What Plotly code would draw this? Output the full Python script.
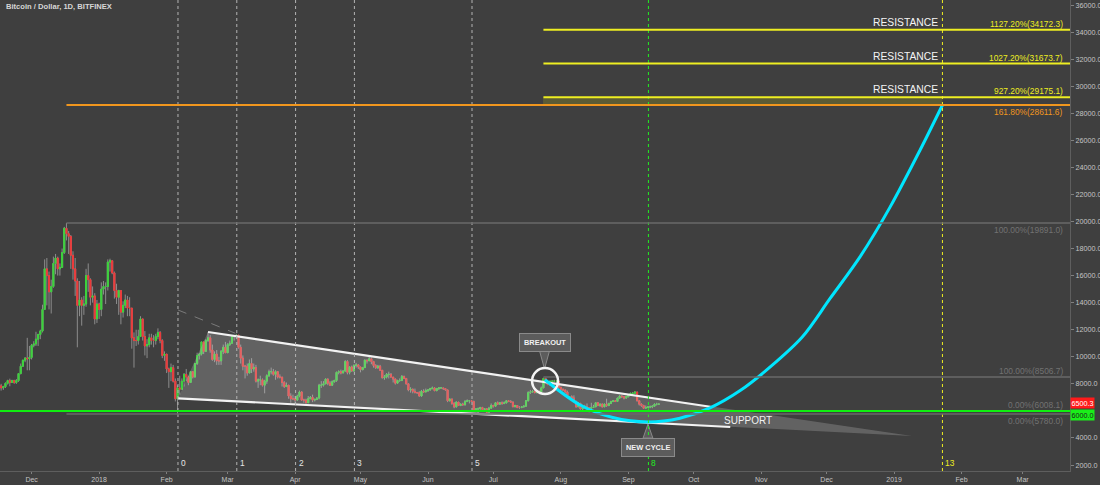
import pandas as pd
import plotly.graph_objects as go

# ---------------- data ----------------
START = "2017-11-17"
FIRST_OPEN = 7850.0

closes = [
    # Nov 17-30 2017
    7700, 7790, 8040, 8240, 8100, 8240, 8100, 8240, 8760, 9300, 9750, 9900, 9850, 9950,
    # Dec 2017
    10850, 10950, 11300, 11650, 11900, 13500, 16500, 16000, 14800, 15200, 16900, 17300, 16500, 16600, 17700,
    19500, 19100, 18900, 17500, 16500, 15600, 13800, 14200, 13800, 13900, 16000, 15700, 14400, 14500, 12800, 13900,
    # Jan 2018
    13500, 15000, 15200, 15200, 17000, 17100, 16200, 14900, 14400, 14900, 13300, 13800, 14200, 13600, 13600,
    11400, 11200, 11200, 11500, 12800, 11500, 10800, 10900, 11400, 11200, 11200, 11500, 11800, 11200, 10100, 10200,
    # Feb 2018
    9100, 8900, 9200, 8200, 6900, 7700, 7600, 8200, 8700, 8500, 8100, 8900, 8500, 9500,
    10100, 10200, 11100, 10400, 11200, 11400, 10500, 9800, 10200, 9700, 9700, 10400, 10700, 10300,
    # Mar 2018
    10900, 11000, 11500, 11500, 11600, 10700, 9900, 9300, 9300, 8800, 9500, 9100, 9200, 8200, 8300,
    8300, 7900, 8200, 8600, 8900, 8900, 8700, 8900, 8500, 8500, 8100, 7800, 7900, 7100, 6900, 6900,
    # Apr 2018
    6800, 7100, 7400, 6800, 6800, 6600, 6900, 7000, 6800, 6850, 6950, 7900, 7900, 8000, 8350,
    8050, 7900, 8150, 8250, 8850, 8900, 8800, 8950, 9650, 8850, 9250, 8950, 9350, 9400, 9250,
    # May 2018
    9050, 9200, 9750, 9700, 9850, 9650, 9350, 9200, 9300, 9000, 8450, 8500, 8700, 8700, 8500,
    8350, 8050, 8250, 8250, 8550, 8400, 8000, 7550, 7600, 7450, 7350, 7350, 7100, 7450, 7400, 7500,
    # Jun 2018
    7550, 7650, 7700, 7500, 7650, 7700, 7700, 7650, 7550, 6750, 6880, 6550, 6300, 6650, 6400,
    6500, 6450, 6700, 6750, 6750, 6700, 6050, 6150, 6150, 6250, 6100, 6150, 5900, 6200, 6400,
    # Jul 2018
    6350, 6600, 6500, 6600, 6550, 6600, 6750, 6700, 6650, 6300, 6400, 6250, 6250, 6300, 6350,
    6750, 7350, 7400, 7450, 7350, 7450, 7400, 7700, 8400, 8150, 7950, 8200, 8200, 8200, 8200, 7750,
    # Aug 2018
    7600, 7550, 7400, 7000, 7050, 6950, 6700, 6300, 6550, 6150, 6250, 6300, 6250, 6200, 6250,
    6300, 6600, 6400, 6500, 6300, 6500, 6400, 6550, 6700, 6750, 6700, 6950, 7100, 7050, 6950, 7050,
    # Sep 1-15 2018
    7200, 7300, 7300, 7400, 6750, 6500, 6400, 6200, 6250, 6300, 6300, 6350, 6500, 6500, 6500.3,
]

highs = [
    8000, 7850, 8100, 8300, 8380, 8300, 8300, 8350, 8800, 9500, 9770, 9980, 11400, 10800,
    10950, 11150, 11850, 11700, 12000, 13850, 17200, 17300, 16300, 15700, 17400, 17600, 17400, 16900, 18000,
    19600, 19891, 19300, 19000, 17800, 17300, 15800, 15600, 14400, 14500, 16500, 16900, 15800, 15200, 14700, 14200,
    14000, 15500, 15600, 15500, 17200, 17250, 17100, 16300, 15400, 14950, 14900, 14100, 14600, 14500, 14400,
    13600, 11800, 12000, 12000, 13000, 12800, 11900, 11300, 11700, 11700, 11600, 11700, 12100, 11900, 11300, 10400,
    10200, 9200, 9500, 9400, 8400, 7900, 8600, 8400, 8800, 9100, 8600, 8950, 8900, 9500,
    10300, 10300, 11100, 11100, 11300, 11800, 11600, 10900, 10400, 10500, 10000, 10500, 10900, 11100,
    11000, 11200, 11500, 11600, 11700, 11600, 10900, 10100, 9400, 9500, 9800, 9900, 9500, 9400, 8400,
    8600, 8400, 8300, 8700, 9050, 9200, 9100, 9000, 8950, 8700, 8500, 8200, 8100, 7900, 7300, 7200,
    7100, 7200, 7500, 7450, 6900, 6900, 7100, 7100, 7200, 6900, 7000, 8000, 8200, 8200, 8400,
    8400, 8200, 8250, 8300, 8900, 9000, 9050, 9000, 9750, 9750, 9300, 9350, 9450, 9550, 9450,
    9250, 9250, 9800, 9800, 9990, 9950, 9700, 9450, 9400, 9400, 9000, 8650, 8800, 8900, 8800,
    8500, 8400, 8300, 8400, 8650, 8600, 8400, 8050, 7750, 7650, 7650, 7400, 7450, 7550, 7600, 7650,
    7600, 7700, 7800, 7750, 7700, 7750, 7750, 7700, 7650, 7550, 6900, 6900, 6650, 6700, 6650,
    6550, 6600, 6800, 6850, 6800, 6800, 6750, 6200, 6250, 6300, 6300, 6200, 6200, 6300, 6550,
    6450, 6650, 6700, 6650, 6700, 6700, 6800, 6800, 6800, 6700, 6450, 6400, 6350, 6350, 6400,
    6800, 7450, 7550, 7550, 7650, 7500, 7550, 7800, 8450, 8450, 8300, 8250, 8250, 8300, 8250, 8200,
    7750, 7650, 7550, 7500, 7100, 7150, 7150, 6750, 6650, 6600, 6450, 6450, 6550, 6250, 6600,
    6450, 6600, 6650, 6550, 6550, 6550, 6900, 6600, 6750, 6800, 6800, 6950, 7150, 7150, 7050, 7100,
    7250, 7350, 7400, 7450, 7400, 6800, 6550, 6450, 6400, 6350, 6400, 6400, 6550, 6600, 6550,
]

lows = [
    7500, 7550, 7700, 7950, 7820, 8080, 8000, 8000, 8150, 8700, 9250, 9600, 9000, 9000,
    9800, 10700, 10800, 10800, 11300, 11800, 13500, 13800, 13500, 13200, 15100, 16100, 16000, 16000, 16600,
    17600, 18600, 17600, 16500, 15700, 14500, 10700, 13000, 12300, 13100, 13700, 14800, 13800, 14000, 12400, 12500,
    12800, 13000, 14600, 13900, 14900, 16300, 16100, 14300, 13900, 13100, 12400, 12900, 13600, 13000, 13000,
    10600, 9200, 10800, 10900, 11500, 11200, 10100, 9900, 10700, 10900, 10700, 10900, 11300, 11000, 9900, 9700,
    8800, 7700, 8200, 8100, 6700, 5780, 7200, 7600, 7800, 8200, 7900, 8100, 8400, 8500,
    9400, 9800, 10100, 10200, 10400, 11100, 10300, 9700, 9600, 9400, 9400, 9400, 10200, 10300,
    10300, 10800, 11000, 11200, 11300, 10600, 9500, 9000, 8400, 8600, 8800, 8800, 8900, 8100, 7700,
    7900, 7800, 7300, 8000, 8500, 8700, 8600, 8300, 8400, 8400, 7800, 7700, 7800, 6900, 6600, 6800,
    6500, 6750, 7000, 6750, 6600, 6550, 6600, 6900, 6650, 6700, 6800, 6850, 7700, 7800, 8000,
    7900, 7850, 7850, 8100, 8150, 8700, 8700, 8800, 8900, 8700, 8700, 8900, 8900, 9200, 9100,
    8850, 9000, 9200, 9500, 9700, 9450, 9200, 9100, 9100, 8950, 8400, 8300, 8400, 8400, 8450,
    8100, 7950, 8050, 8150, 8200, 8350, 7950, 7450, 7350, 7300, 7300, 7250, 7050, 7050, 7350, 7400,
    7400, 7500, 7600, 7450, 7450, 7550, 7650, 7550, 7500, 6650, 6700, 6450, 6200, 6250, 6400,
    6350, 6400, 6400, 6650, 6550, 6650, 5950, 5950, 5800, 6100, 6050, 6050, 5850, 5850, 6200,
    6250, 6300, 6450, 6450, 6450, 6500, 6550, 6650, 6600, 6300, 6300, 6200, 6150, 6200, 6250,
    6300, 6700, 7250, 7350, 7300, 7300, 7350, 7350, 7700, 8050, 7900, 7850, 8100, 8150, 7900, 7650,
    7450, 7450, 7300, 6950, 6900, 6850, 6650, 6250, 6300, 6100, 6050, 6200, 6150, 5900, 6100,
    6250, 6300, 6350, 6300, 6250, 6300, 6300, 6350, 6500, 6650, 6650, 6700, 6900, 6950, 6850, 6900,
    7000, 7150, 7200, 7250, 6700, 6400, 6300, 6150, 6200, 6250, 6200, 6200, 6300, 6400, 6450,
]

# Fibonacci levels (labels, prices)
fib1_labels = ["161.80%(28611.6)", "100.00%(19891.0)", "0.00%(5780.0)"]
fib1_prices = [28611.6, 19891.0, 5780.0]
fib2_labels = ["1127.20%(34172.3)", "1027.20%(31673.7)", "927.20%(29175.1)", "100.00%(8506.7)", "0.00%(6008.1)"]
fib2_prices = [34172.3, 31673.7, 29175.1, 8506.7, 6008.1]
support_price = 6000.0
last_price = 6500.3

# Fibonacci time zones
fib_zone_start = "2018-02-06 05:00"
fib_zone_unit_days = 27
fib_zone_numbers = [0, 1, 2, 3, 5, 8, 13]

# drawings (date, price)
wedge_upper_dates = ["2018-02-20", "2018-10-09 10:00"]
wedge_upper_prices = [11830, 6290]
wedge_lower_dates = ["2018-02-06 05:00", "2018-10-17 19:00"]
wedge_lower_prices = [6930, 4810]
wedge_apex = ("2019-01-09 05:00", 4145)
dash_dates = ["2018-02-06 05:00", "2018-03-04 12:00"]
dash_prices = [13460, 11740]

curve_dates = ["2018-07-24 16:00", "2018-08-09 20:00", "2018-08-24 20:00", "2018-09-10", "2018-09-24 16:00",
               "2018-10-08 12:00", "2018-10-22 08:00", "2018-11-05", "2018-11-19 20:00", "2018-12-02 15:00",
               "2018-12-16 10:00", "2018-12-30 05:00", "2019-01-13", "2019-01-23 05:00"]
curve_prices = [8300, 6436, 5510, 5180, 5460, 6220, 7500, 9230, 11460, 14310, 17400, 21080, 25300, 28611.6]

# ---------------- styling ----------------
BG = "#3f3f3f"
UP = "#3bd43b"
DOWN = "#ee3a3a"
WICK = "#8c8c8c"
FONT = "Liberation Sans"
ORANGE = "#f0961e"
YELLOW = "#eeee22"
GREEN = "#10ee10"
GRAYLINE = "#6a6a6a"

X_START = "2017-11-16 11:45"
X_END = "2019-03-22 18:30"
Y_RANGE = [1558, 36370]

n = min(len(closes), len(highs), len(lows))
dates = pd.date_range(START, periods=n, freq="D")
cl = closes[:n]
opens = [FIRST_OPEN] + cl[:-1]
hi = [max(h, o, c) for h, o, c in zip(highs[:n], opens, cl)]
lo = [min(l, o, c) for l, o, c in zip(lows[:n], opens, cl)]
bhi = [max(o, c) for o, c in zip(opens, cl)]
blo = [min(o, c) for o, c in zip(opens, cl)]

fig = go.Figure()

# wedge fill
fig.add_trace(go.Scatter(
    x=[wedge_lower_dates[0], wedge_upper_dates[0], wedge_apex[0], wedge_lower_dates[0]],
    y=[wedge_lower_prices[0], wedge_upper_prices[0], wedge_apex[1], wedge_lower_prices[0]],
    fill="toself", fillcolor="rgba(215,215,215,0.24)", line=dict(width=0),
    mode="lines", hoverinfo="skip", showlegend=False))

# candles: wicks then bodies
fig.add_trace(go.Candlestick(
    x=dates, open=opens, high=hi, low=lo, close=cl,
    increasing=dict(line=dict(color=WICK, width=1), fillcolor=WICK),
    decreasing=dict(line=dict(color=WICK, width=1), fillcolor=WICK),
    whiskerwidth=0, hoverinfo="skip", showlegend=False))
fig.add_trace(go.Candlestick(
    x=dates, open=opens, high=bhi, low=blo, close=cl,
    increasing=dict(line=dict(color=UP, width=1), fillcolor=UP),
    decreasing=dict(line=dict(color=DOWN, width=1), fillcolor=DOWN),
    whiskerwidth=0, hoverinfo="skip", showlegend=False))

# wedge lines
for xs, ys in [(wedge_upper_dates, wedge_upper_prices), (wedge_lower_dates, wedge_lower_prices)]:
    fig.add_trace(go.Scatter(x=xs, y=ys, mode="lines", line=dict(color="#f2f2f2", width=2.2),
                             hoverinfo="skip", showlegend=False))
fig.add_trace(go.Scatter(x=dash_dates, y=dash_prices, mode="lines",
                         line=dict(color="#7a7a7a", width=1, dash="dash"), hoverinfo="skip", showlegend=False))

shapes = []
# fib time zones
zone_colors = {8: "#22ee22", 13: "#eeee22"}
zone_start = pd.Timestamp(fib_zone_start)
zone_dates = []
for k in fib_zone_numbers:
    d = zone_start + pd.Timedelta(days=fib_zone_unit_days * k)
    zone_dates.append(d)
    shapes.append(dict(type="line", xref="x", yref="paper", x0=d, x1=d, y0=0, y1=1,
                       line=dict(color=zone_colors.get(k, "#b4b4b4"), width=1, dash="dot"), layer="above"))

breakout_date = "2018-07-24"
target_date = zone_dates[-1]
# yellow/olive band
shapes.append(dict(type="rect", xref="x", yref="y", x0="2018-07-23 20:00", x1=target_date,
                   y0=fib1_prices[0], y1=fib2_prices[2], fillcolor="rgba(255,255,0,0.15)",
                   line=dict(width=0), layer="below"))
# fib 1 lines
fib1_colors = [ORANGE, GRAYLINE, GRAYLINE]
fib1_widths = [2, 1.5, 1.5]
for p, c, w in zip(fib1_prices, fib1_colors, fib1_widths):
    shapes.append(dict(type="line", xref="x", yref="y", x0="2017-12-17", x1=X_END, y0=p, y1=p,
                       line=dict(color=c, width=w)))
# fib 2 lines
fib2_colors = [YELLOW, YELLOW, YELLOW, GRAYLINE, GRAYLINE]
fib2_widths = [2, 2, 2, 1.5, 1.5]
for p, c, w in zip(fib2_prices, fib2_colors, fib2_widths):
    shapes.append(dict(type="line", xref="x", yref="y", x0=breakout_date, x1=X_END, y0=p, y1=p,
                       line=dict(color=c, width=w)))
# support line
shapes.append(dict(type="line", xref="x", yref="y", x0=X_START, x1=X_END, y0=support_price, y1=support_price,
                   line=dict(color=GREEN, width=2)))
# breakout circle
shapes.append(dict(type="circle", xref="x", yref="y", x0="2018-07-18 19:00", x1="2018-07-30 17:00",
                   y0=7250, y1=9170, line=dict(color="#f4f4f4", width=2.5)))

# cyan curve
fig.add_trace(go.Scatter(x=curve_dates, y=curve_prices, mode="lines",
                         line=dict(color="#00e6ff", width=3, shape="spline", smoothing=0.9),
                         hoverinfo="skip", showlegend=False))

# callout tails
CALL_FILL = "#5c5c5c"
CALL_LINE = "#8a8a8a"
fig.add_trace(go.Scatter(x=["2018-07-22 06:00", "2018-07-26 18:00", "2018-07-24 12:00", "2018-07-22 06:00"],
                         y=[10420, 10420, 9100, 10420], fill="toself", fillcolor=CALL_FILL,
                         line=dict(color=CALL_LINE, width=1), mode="lines", hoverinfo="skip", showlegend=False))
fig.add_trace(go.Scatter(x=["2018-09-07 18:00", "2018-09-12 06:00", "2018-09-10", "2018-09-07 18:00"],
                         y=[3990, 3990, 5030, 3990], fill="toself", fillcolor=CALL_FILL,
                         line=dict(color=CALL_LINE, width=1), mode="lines", hoverinfo="skip", showlegend=False))

ann = []
ann.append(dict(x=0.004, y=0.999, xref="paper", yref="paper", xanchor="left", yanchor="top",
                text="<b>Bitcoin / Dollar, 1D, BITFINEX</b>", showarrow=False,
                font=dict(family=FONT, size=7.6, color="#d6d6d6")))
# callouts
ann.append(dict(x="2018-07-24 12:00", y=11090, xref="x", yref="y", text="<b>BREAKOUT</b>", showarrow=False,
                font=dict(family=FONT, size=7.4, color="#f0f0f0"), bgcolor=CALL_FILL, bordercolor=CALL_LINE,
                borderwidth=1, borderpad=4))
ann.append(dict(x="2018-09-10", y=3330, xref="x", yref="y", text="<b>NEW CYCLE</b>", showarrow=False,
                font=dict(family=FONT, size=7.4, color="#f0f0f0"), bgcolor=CALL_FILL, bordercolor=CALL_LINE,
                borderwidth=1, borderpad=4))
ann.append(dict(x="2018-10-26", y=5254, xref="x", yref="y", text="SUPPORT", showarrow=False,
                font=dict(family=FONT, size=10, color="#f0f0f0")))
for p in fib2_prices[:3]:
    ann.append(dict(x=target_date, y=p, xref="x", yref="y", text="RESISTANCE", showarrow=False,
                    xanchor="right", yanchor="bottom", xshift=-2, yshift=0,
                    font=dict(family=FONT, size=10.3, color="#f4f4f4")))
# fib labels
fib2_text_colors = [YELLOW, YELLOW, YELLOW, "#727272", "#727272"]
for t, p, c in zip(fib2_labels, fib2_prices, fib2_text_colors):
    ann.append(dict(x=1, y=p, xref="paper", yref="y", text=t, showarrow=False, xanchor="right",
                    yanchor="bottom", xshift=-5, yshift=-1, font=dict(family=FONT, size=8.4, color=c)))
fib1_text_colors = [ORANGE, "#727272", "#727272"]
for t, p, c in zip(fib1_labels, fib1_prices, fib1_text_colors):
    ann.append(dict(x=1, y=p, xref="paper", yref="y", text=t, showarrow=False, xanchor="right",
                    yanchor="top", xshift=-5, yshift=0, font=dict(family=FONT, size=8.4, color=c)))
# fib zone numbers
for k, d in zip(fib_zone_numbers, zone_dates):
    ann.append(dict(x=d, y=0, xref="x", yref="paper", text=str(k), showarrow=False, xanchor="left",
                    yanchor="bottom", xshift=1, yshift=1,
                    font=dict(family=FONT, size=8.4, color=zone_colors.get(k, "#e6e6e6"))))
# price scale labels (the green box stands in for the 6000.0 tick, as on the chart)
ann.append(dict(x=1, y=last_price, xref="paper", yref="y", text="6500.3", showarrow=False, xanchor="left",
                yanchor="middle", xshift=0, yshift=1, font=dict(family=FONT, size=7.2, color="#ffffff"),
                bgcolor="#ff1a1a", borderpad=0.5))
ann.append(dict(x=1, y=support_price, xref="paper", yref="y", text="6000.0", showarrow=False, xanchor="left",
                yanchor="middle", xshift=0, yshift=-4, font=dict(family=FONT, size=7.2, color="#1a1a1a"),
                bgcolor="#1aee1a", borderpad=0.5))

# axis ticks
month_ticks = pd.date_range("2017-12-01", "2019-03-01", freq="MS")
month_text = [str(d.year) if d.month == 1 else d.strftime("%b") for d in month_ticks]
price_ticks = list(range(2000, 36001, 2000))
price_text = ["" if v == support_price else f"{v:.1f}" for v in price_ticks]

fig.update_layout(
    width=1100, height=485,
    margin=dict(l=0, r=30, t=0, b=14),
    paper_bgcolor=BG, plot_bgcolor=BG,
    showlegend=False, boxmode="overlay",
    shapes=shapes, annotations=ann,
    font=dict(family=FONT, color="#c8c8c8"),
    xaxis=dict(range=[X_START, X_END], type="date", rangeslider=dict(visible=False),
               tickvals=list(month_ticks), ticktext=month_text, showgrid=False, zeroline=False,
               ticks="outside", ticklen=2, tickcolor="#808080", showline=True, linecolor="#5e5e5e",
               linewidth=1, tickfont=dict(family=FONT, size=7.0, color="#c4c4c4"), automargin=False),
    yaxis=dict(range=Y_RANGE, side="right", tickvals=price_ticks, ticktext=price_text,
               showgrid=False, zeroline=False,
               ticks="outside", ticklen=3, tickcolor="#808080", showline=True, linecolor="#5e5e5e",
               linewidth=1, tickfont=dict(family=FONT, size=7.2, color="#c4c4c4"), automargin=False),
)

fig.write_html(
    "out.html",
    config={"displayModeBar": False},
    post_script="document.body.style.margin='0';document.body.style.padding='0';"
                "document.body.style.background='#3f3f3f';document.body.style.overflow='hidden';",
)
